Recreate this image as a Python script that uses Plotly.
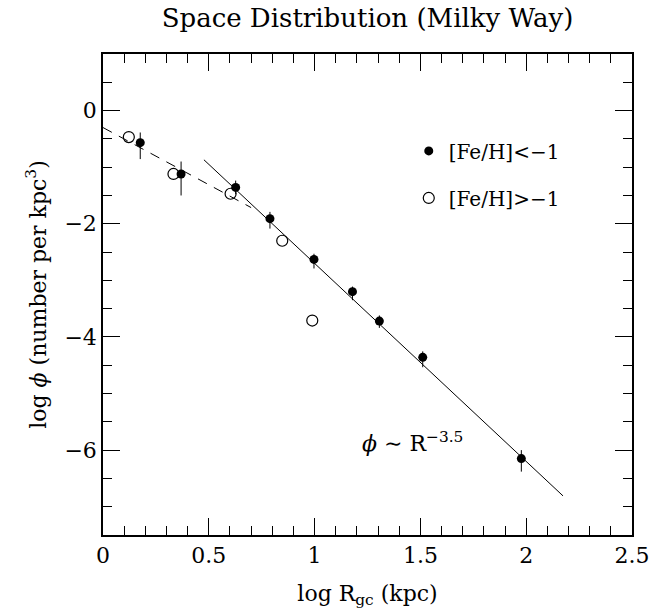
import plotly.graph_objects as go

# Metal-poor sample, [Fe/H] < -1: log R_gc (kpc), log phi, asymmetric errors
poor_logr = [0.176, 0.369, 0.627, 0.789, 0.997, 1.179, 1.306, 1.511, 1.977]
poor_logphi = [-0.567, -1.12, -1.357, -1.91, -2.63, -3.20, -3.72, -4.36, -6.15]
poor_err_up = [0.18, 0.22, 0.12, 0.12, 0.10, 0.09, 0.10, 0.105, 0.15]
poor_err_dn = [0.29, 0.38, 0.12, 0.175, 0.16, 0.15, 0.12, 0.175, 0.23]

# Metal-rich sample, [Fe/H] > -1
rich_logr = [0.122, 0.333, 0.603, 0.847, 0.989]
rich_logphi = [-0.468, -1.12, -1.47, -2.30, -3.71]

# Power-law fits: log phi = a + b * log R over the given log R interval
halo_fit = dict(a=0.80, b=-3.5, lo=0.477, hi=2.174)
disk_fit = dict(a=-0.30, b=-2.02, lo=0.0, hi=0.70)


def fit_line(f):
    xs = [f["lo"], f["hi"]]
    return xs, [f["a"] + f["b"] * x for x in xs]


FONT = "DejaVu Serif"
fig = go.Figure()

dx, dy = fit_line(disk_fit)
fig.add_trace(go.Scatter(x=dx, y=dy, mode="lines", showlegend=False,
                         line=dict(color="black", width=1, dash="10px,8px")))
hx, hy = fit_line(halo_fit)
fig.add_trace(go.Scatter(x=hx, y=hy, mode="lines", showlegend=False,
                         line=dict(color="black", width=1)))

# open circles first so the filled points sit on top
fig.add_trace(go.Scatter(
    x=rich_logr, y=rich_logphi, mode="markers", name="[Fe/H]&gt;−1",
    legendgroup="rich", legendrank=2,
    marker=dict(symbol="circle-open", size=11, color="black",
                line=dict(width=1.2, color="black")),
))
fig.add_trace(go.Scatter(
    x=poor_logr, y=poor_logphi, mode="markers", name="[Fe/H]&lt;−1",
    legendgroup="poor", legendrank=1,
    marker=dict(symbol="circle", size=9, color="black"),
    error_y=dict(type="data", symmetric=False, array=poor_err_up,
                 arrayminus=poor_err_dn, width=0, thickness=1, color="black"),
))

fig.add_annotation(x=1.213, y=-5.86, xref="x", yref="y", xanchor="left",
                   yanchor="middle", showarrow=False,
                   text="<i>ϕ</i> ∼ R<sup>−3.5</sup>",
                   font=dict(family=FONT, size=22, color="black"))

axis_common = dict(
    showline=True, mirror="ticks", linecolor="black", linewidth=1.5,
    ticks="inside", tickcolor="black", tickwidth=1, ticklen=17,
    showgrid=False, zeroline=False,
    tickfont=dict(family=FONT, size=22, color="black"),
)

fig.update_xaxes(
    range=[0, 2.5], tick0=0, dtick=0.5,
    minor=dict(dtick=0.1, ticks="inside", ticklen=9, tickcolor="black",
               tickwidth=1, showgrid=False),
    title=dict(text="log R<sub>gc</sub> (kpc)", standoff=18,
               font=dict(family=FONT, size=22, color="black")),
    **axis_common,
)
fig.update_yaxes(
    range=[-7.5, 1], tick0=0, dtick=2,
    minor=dict(dtick=0.5, ticks="inside", ticklen=9, tickcolor="black",
               tickwidth=1, showgrid=False),
    title=dict(text="log <i>ϕ</i> (number per kpc<sup>3</sup>)", standoff=12,
               font=dict(family=FONT, size=22, color="black")),
    **axis_common,
)

fig.update_layout(
    width=662, height=614,
    margin=dict(l=103, r=19, t=54, b=75),
    paper_bgcolor="white", plot_bgcolor="white",
    font=dict(family=FONT, size=22, color="black"),
    title=dict(text="Space Distribution (Milky Way)", x=0.5, xref="paper",
               xanchor="center", y=1 - 18 / 614, yanchor="middle",
               font=dict(family=FONT, size=26, color="black")),
    legend=dict(x=0.578, xanchor="left", y=0.839, yanchor="top",
                bgcolor="rgba(0,0,0,0)", borderwidth=0,
                traceorder="grouped", tracegroupgap=18,
                font=dict(family=FONT, size=20, color="black")),
)

fig.write_html("out.html")
